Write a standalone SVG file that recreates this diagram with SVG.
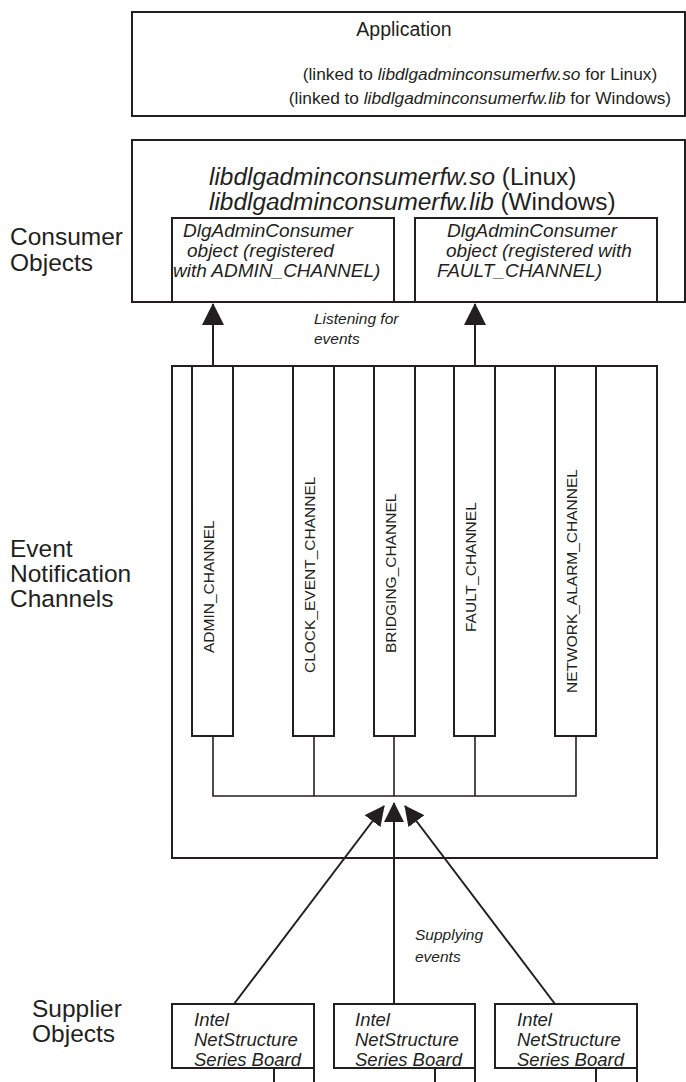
<svg xmlns="http://www.w3.org/2000/svg" width="686" height="1082" viewBox="0 0 686 1082">
<style>
.box{fill:#fff;stroke:#231f20;stroke-width:2}
.ln{fill:none;stroke:#231f20;stroke-width:2}
.thin{fill:none;stroke:#231f20;stroke-width:1.6}
text{font-family:"Liberation Sans",Arial,Helvetica,sans-serif;fill:#231f20}
.i{font-style:italic}
.lbl{font-size:24.5px}
.ch{font-size:15.5px}
.sub{font-size:19px;font-style:italic}
.sup{font-size:18.5px;font-style:italic}
.note{font-size:15.5px;font-style:italic}
</style>
<defs>
<marker id="ah" markerUnits="userSpaceOnUse" viewBox="0 0 22 22" refX="21" refY="11" markerWidth="22" markerHeight="22" orient="auto"><path d="M0,0 L22,11 L0,22 z" fill="#231f20"/></marker>
<marker id="ah2" markerUnits="userSpaceOnUse" viewBox="0 0 20 20" refX="19" refY="10" markerWidth="20" markerHeight="20" orient="auto"><path d="M0,0 L20,10 L0,20 z" fill="#231f20"/></marker>
</defs>
<rect width="686" height="1082" fill="#fff"/>

<g id="labels">
<text class="lbl" x="10" y="245">Consumer</text>
<text class="lbl" x="10" y="271">Objects</text>
<text class="lbl" x="10" y="557">Event</text>
<text class="lbl" x="10" y="582">Notification</text>
<text class="lbl" x="10" y="607">Channels</text>
<text class="lbl" x="32" y="1017">Supplier</text>
<text class="lbl" x="32" y="1042">Objects</text>
</g>

<g id="application">
<rect class="box" x="132" y="12" width="553" height="104"/>
<text x="404" y="36" font-size="19.5" text-anchor="middle">Application</text>
<text x="480" y="80" font-size="17.3" text-anchor="middle">(linked to <tspan class="i">libdlgadminconsumerfw.so</tspan> for Linux)</text>
<text x="480" y="104" font-size="17.3" text-anchor="middle">(linked to <tspan class="i">libdlgadminconsumerfw.lib</tspan> for Windows)</text>
</g>

<g id="consumer-lib">
<rect class="box" x="132" y="140" width="553" height="162"/>
<text x="209" y="185" font-size="24.4"><tspan class="i">libdlgadminconsumerfw.so</tspan> (Linux)</text>
<text x="209" y="210" font-size="24.4"><tspan class="i">libdlgadminconsumerfw.lib</tspan> (Windows)</text>
</g>

<g id="consumer-admin">
<rect class="box" x="172" y="218" width="222" height="84"/>
<text class="sub" x="183" y="237">DlgAdminConsumer</text>
<text class="sub" x="187" y="257">object (registered</text>
<text class="sub" x="173" y="277">with ADMIN_CHANNEL)</text>
</g>

<g id="consumer-fault">
<rect class="box" x="415" y="218" width="242" height="84"/>
<text class="sub" x="447" y="237">DlgAdminConsumer</text>
<text class="sub" x="446" y="257">object (registered with</text>
<text class="sub" x="437" y="277">FAULT_CHANNEL)</text>
</g>

<g id="channels">
<rect class="box" x="172" y="366" width="485" height="492"/>
</g>
<g id="admin-channel">
<rect class="box" x="192" y="366" width="41" height="370"/>
<text class="ch" transform="translate(214,653) rotate(-90)">ADMIN_CHANNEL</text>
</g>
<g id="clock-channel">
<rect class="box" x="293" y="366" width="41" height="370"/>
<text class="ch" transform="translate(315,673) rotate(-90)">CLOCK_EVENT_CHANNEL</text>
</g>
<g id="bridging-channel">
<rect class="box" x="374" y="366" width="41" height="370"/>
<text class="ch" transform="translate(396,653) rotate(-90)">BRIDGING_CHANNEL</text>
</g>
<g id="fault-channel">
<rect class="box" x="454" y="366" width="41" height="370"/>
<text class="ch" transform="translate(476,632) rotate(-90)">FAULT_CHANNEL</text>
</g>
<g id="network-channel">
<rect class="box" x="555" y="366" width="41" height="370"/>
<text class="ch" transform="translate(577,693) rotate(-90)">NETWORK_ALARM_CHANNEL</text>
</g>

<g id="supplier-1">
<rect class="box" x="172" y="1004" width="142" height="64"/>
<text class="sup" x="194" y="1026">Intel</text>
<text class="sup" x="194" y="1046">NetStructure</text>
<text class="sup" x="194" y="1066">Series Board</text>
</g>
<g id="supplier-2">
<rect class="box" x="334" y="1004" width="141" height="64"/>
<text class="sup" x="355" y="1026">Intel</text>
<text class="sup" x="355" y="1046">NetStructure</text>
<text class="sup" x="355" y="1066">Series Board</text>
</g>
<g id="supplier-3">
<rect class="box" x="495" y="1004" width="142" height="64"/>
<text class="sup" x="517" y="1026">Intel</text>
<text class="sup" x="517" y="1046">NetStructure</text>
<text class="sup" x="517" y="1066">Series Board</text>
</g>

<g id="connectors">
<line class="ln" x1="213" y1="366" x2="213" y2="304" marker-end="url(#ah)"/>
<line class="ln" x1="475" y1="366" x2="475" y2="304" marker-end="url(#ah)"/>
<polyline class="thin" points="213,736 213,796 576,796 576,736"/>
<line class="thin" x1="314" y1="736" x2="314" y2="796"/>
<line class="thin" x1="394" y1="736" x2="394" y2="796"/>
<line class="thin" x1="475" y1="736" x2="475" y2="796"/>
<line class="ln" x1="394" y1="1004" x2="394" y2="803" marker-end="url(#ah2)"/>
<line class="ln" x1="234" y1="1004" x2="384" y2="806" marker-end="url(#ah2)"/>
<line class="ln" x1="555" y1="1004" x2="405" y2="806" marker-end="url(#ah2)"/>
<line class="ln" x1="274" y1="1068" x2="274" y2="1082"/>
<line class="ln" x1="314" y1="1068" x2="314" y2="1082"/>
<line class="ln" x1="435" y1="1068" x2="435" y2="1082"/>
<line class="ln" x1="475" y1="1068" x2="475" y2="1082"/>
<line class="ln" x1="596" y1="1068" x2="596" y2="1082"/>
<line class="ln" x1="637" y1="1068" x2="637" y2="1082"/>
</g>

<g id="notes">
<text class="note" x="314" y="324">Listening for</text>
<text class="note" x="314" y="344">events</text>
<text class="note" x="415" y="940">Supplying</text>
<text class="note" x="415" y="962">events</text>
</g>
</svg>
